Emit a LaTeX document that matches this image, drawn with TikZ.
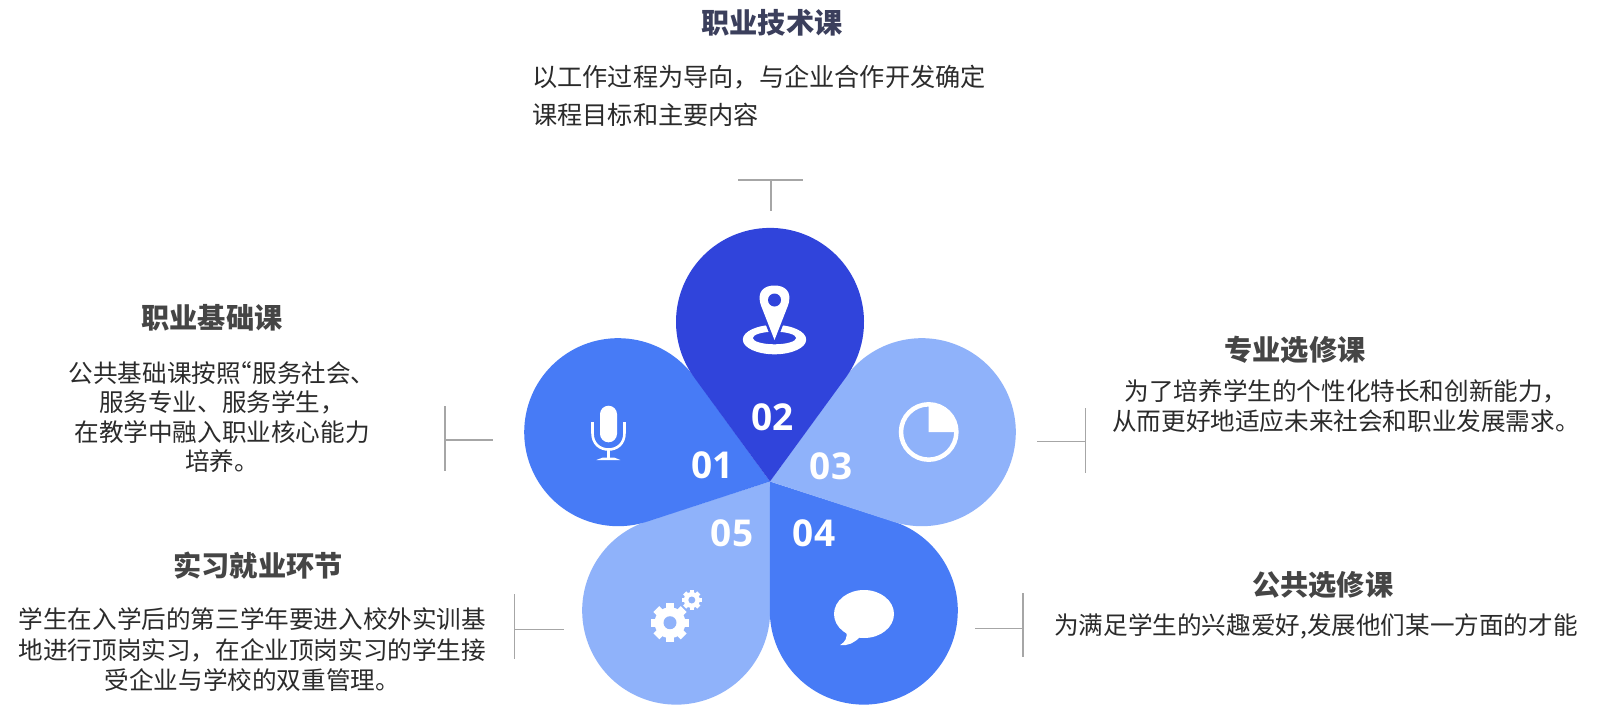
\documentclass[tikz,border=0pt]{standalone}
\usepackage{fontspec}
\setmainfont{Noto Sans CJK SC}
\newfontfamily\numfont{Open Sans}
\definecolor{deep}{HTML}{3044DB}
\definecolor{mid}{HTML}{477BF6}
\definecolor{pale}{HTML}{8FB2FA}
\definecolor{rulegray}{HTML}{A6A6A6}
\definecolor{bodyink}{HTML}{2B2B2B}
\definecolor{headink}{HTML}{454545}
\definecolor{headblue}{HTML}{3B3F5C}
\tikzset{
  rulepath/.style={draw=rulegray,line width=1.2pt},
  headtext/.style={font=\fontsize{28.2}{32}\selectfont\bfseries,text=headink,inner sep=0pt},
  bodytext/.style={font=\fontsize{24.6}{#1}\selectfont,text=bodyink,inner sep=0pt,align=center},
  numtext/.style={font=\numfont\fontsize{37}{40}\selectfont\bfseries,text=white,inner sep=0pt},
  icon/.style={fill=white,draw=none}
}
\newcommand{\petal}[2]{%
  \begin{scope}[shift={(tip)},rotate=#1,x=1pt,y=1pt]
    \fill[#2] (0,0) -- ({94*cos(36)},{159.6-94*sin(36)}) arc[start angle=-36,end angle=216,radius=94] -- cycle;
  \end{scope}}
\newcommand{\gearicon}[5]{% x y outer toothwidth hole
  \begin{scope}[shift={(#1,#2)}]
    \fill[white] (0,0) circle[radius=#3pt*0.8];
    \foreach \a in {0,45,...,315}
      \fill[white,rotate=\a] (-#4pt,0pt) rectangle (#4pt,#3pt);
    \fill[pale] (0,0) circle[radius=#5pt];
  \end{scope}}
\begin{document}
\begin{tikzpicture}[x=1pt,y=-1pt]
\useasboundingbox (0,0) rectangle (1599,718);
\fill[white] (0,0) rectangle (1599,718);
\coordinate (tip) at (770,481.5);
% petals
\petal{144}{pale}
\petal{-144}{mid}
\petal{72}{mid}
\petal{-72}{pale}
\petal{0}{deep}
% numbers
\node[numtext] (n1) at (712.5,465) {01};
\node[numtext] (n2) at (772.5,417) {02};
\node[numtext] (n3) at (831,466) {03};
\node[numtext] (n4) at (814,533) {04};
\node[numtext] (n5) at (732,533) {05};
% pin icon
\fill[icon,even odd rule] (774.5,339.6) ellipse[x radius=31.7pt,y radius=14.7pt]
     (774.5,338) ellipse[x radius=21.7pt,y radius=6.3pt];
\path[fill=white,draw=deep,line width=5pt,line join=round] (774.5,340) -- (761.2,306) .. controls (755.7,291) and (764.7,285.5) .. (774.5,285.5) .. controls (784.3,285.5) and (793.2,291) .. (787.8,306) -- cycle;
\fill[icon] (774.5,340) -- (761.2,306) .. controls (755.7,291) and (764.7,285.5) .. (774.5,285.5) .. controls (784.3,285.5) and (793.2,291) .. (787.8,306) -- cycle;
\fill[deep] (774.5,300) circle[radius=6.5pt];
% mic icon
\fill[icon,rounded corners=8.5pt] (600,405.7) rectangle (617,442.3);
\draw[white,line width=2.6pt] (592.5,422) -- (592.5,433) .. controls (592.5,444) and (600,449.5) .. (608.5,449.5) .. controls (617,449.5) and (624.5,444) .. (624.5,433) -- (624.5,422);
\fill[icon] (607,449) rectangle (610,458);
\fill[icon] (596.4,460) -- (603,457.5) -- (614,457.5) -- (620.4,460) -- cycle;
% clock icon
\coordinate (clk) at (928.7,432);
\draw[white,line width=4.5pt] (clk) circle[radius=27.7pt];
\fill[icon] (clk) -- ++(0pt,27pt) arc[start angle=90,end angle=0,radius=27pt] -- cycle;
% chat icon
\fill[icon] (864,614) ellipse[x radius=30pt,y radius=24pt];
\fill[icon] (846,631) .. controls (848,638) and (845,642) .. (840.2,645) .. controls (848,646) and (854,643) .. (860,637) -- cycle;
% gears
\gearicon{670}{622.7}{19.3}{4.2}{6.5}
\gearicon{691.8}{600}{10}{2.2}{3.5}
% rules
\coordinate (t1) at (738,180); \coordinate (t2) at (803,180);
\coordinate (t3) at (771,180); \coordinate (t4) at (771,211);
\draw[rulepath] (t1) -- (t2); \draw[rulepath] (t3) -- (t4);
\coordinate (a1) at (445,406); \coordinate (a2) at (445,471);
\coordinate (a3) at (445,440); \coordinate (a4) at (493,440);
\draw[rulepath] (a1) -- (a2); \draw[rulepath] (a3) -- (a4);
\coordinate (b1) at (514.8,594); \coordinate (b2) at (514.8,658.7);
\coordinate (b3) at (514.8,629.3); \coordinate (b4) at (563.7,629.3);
\draw[rulepath] (b1) -- (b2); \draw[rulepath] (b3) -- (b4);
\coordinate (c1) at (1023,593); \coordinate (c2) at (1023,657);
\coordinate (c3) at (975,628.3); \coordinate (c4) at (1023,628.3);
\draw[rulepath] (c1) -- (c2); \draw[rulepath] (c3) -- (c4);
\coordinate (d1) at (1085.3,408); \coordinate (d2) at (1085.3,472.7);
\coordinate (d3) at (1037,441.7); \coordinate (d4) at (1085.3,441.7);
\draw[rulepath] (d1) -- (d2); \draw[rulepath] (d3) -- (d4);
% texts
\node[headtext,text=headblue] (h2) at (772,22.5) {职业技术课};
\node[bodytext=38.7,anchor=west,align=left,font=\fontsize{25.2}{38.7}\selectfont] (t2b) at (532,95.8) {以工作过程为导向，与企业合作开发确定\\课程目标和主要内容};
\node[headtext] (h1) at (212,318) {职业基础课};
\node[bodytext=29.3] (t1b) at (222,417) {公共基础课按照\kern-13pt “服务社会、\\服务专业、服务学生，\\在教学中融入职业核心能力\\培养。};
\node[headtext] (h3) at (1295,350) {专业选修课};
\node[bodytext=29.6] (t3b) at (1346,406.4) {为了培养学生的个性化特长和创新能力，\\从而更好地适应未来社会和职业发展需求。};
\node[headtext] (h4) at (1322.7,584.6) {公共选修课};
\node[bodytext=30] (t4b) at (1316,626) {为满足学生的兴趣爱好,发展他们某一方面的才能};
\node[headtext] (h5) at (258,566) {实习就业环节};
\node[bodytext=30.6] (t5b) at (252.4,649.6) {学生在入学后的第三学年要进入校外实训基\\地进行顶岗实习，在企业顶岗实习的学生接\\受企业与学校的双重管理。};
\end{tikzpicture}
\end{document}
